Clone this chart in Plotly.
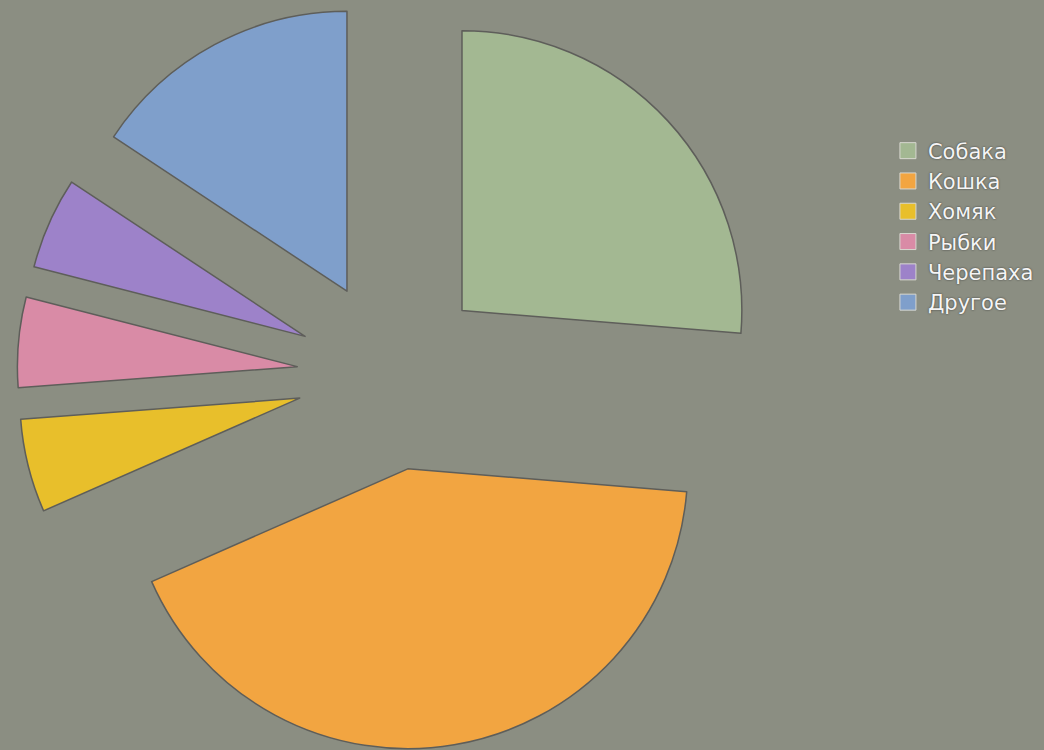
import plotly.graph_objects as go

labels = ["Собака", "Кошка", "Хомяк", "Рыбки", "Черепаха", "Другое"]
values = [26.3, 42.1, 5.4, 5.2, 5.3, 15.7]
colors = ["#a3b892", "#f2a541", "#e8bf2b", "#d98ba6", "#9d82c9", "#7f9fcb"]

fig = go.Figure()
fig.add_trace(go.Pie(
    labels=labels,
    values=values,
    sort=False,
    direction="clockwise",
    rotation=0,
    pull=[0.34] * len(values),
    marker=dict(colors=colors, line=dict(color="#5e5e5a", width=1.5)),
    textinfo="none",
    hoverinfo="label+percent",
    showlegend=False,
    domain=dict(x=[0, 0.751], y=[0, 1]),
))

# legend entries (larger square swatches) built from the same arrays
for lab, col in zip(labels, colors):
    fig.add_trace(go.Scatter(
        x=[None], y=[None], mode="markers", name=lab,
        marker=dict(symbol="square", size=16, color=col,
                    line=dict(color="#d8d8d0", width=1)),
        hoverinfo="skip",
    ))

fig.update_layout(
    width=1044, height=750,
    margin=dict(l=0, r=0, t=0, b=0),
    paper_bgcolor="#8b8e82",
    plot_bgcolor="#8b8e82",
    xaxis=dict(visible=False),
    yaxis=dict(visible=False),
    showlegend=True,
    legend=dict(
        x=0.8505, y=0.826, xanchor="left", yanchor="top",
        font=dict(family="DejaVu Sans, Verdana, sans-serif", size=21, color="#f5f5f5",
                  shadow="0px 0px 2px #333333"),
        bgcolor="rgba(0,0,0,0)",
        itemsizing="trace",
        tracegroupgap=0,
    ),
)

fig.write_html("out.html", config={"displayModeBar": False},
               post_script="document.body.style.margin='0';")
